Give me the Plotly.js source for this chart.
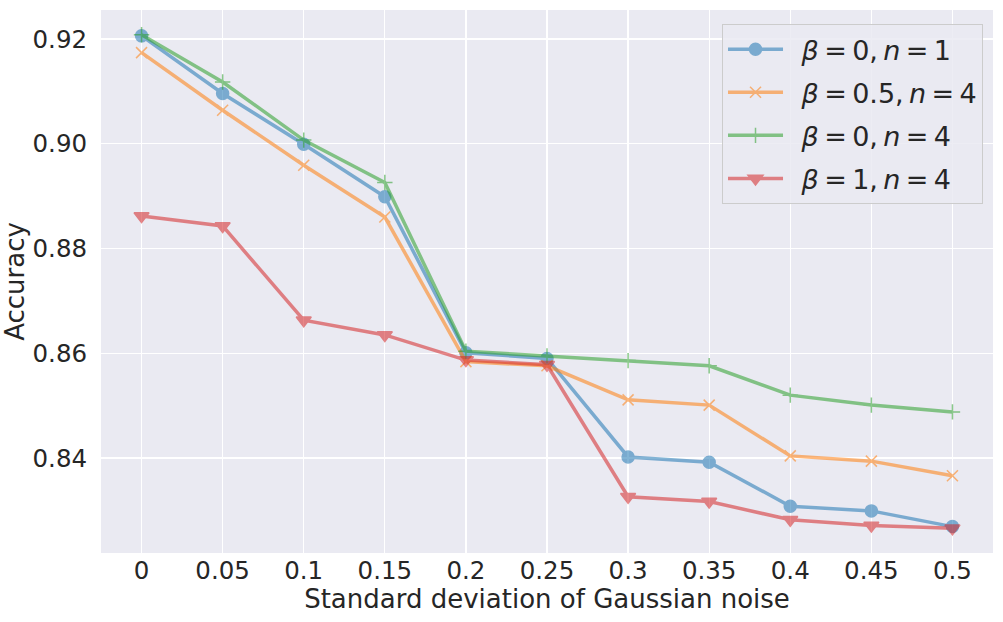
<!DOCTYPE html>
<html>
<head>
<meta charset="utf-8">
<script src="https://cdn.plot.ly/plotly-3.0.1.min.js"></script>
<style>
  body { margin: 0; background: #fff; }
  #chart { width: 1003px; height: 622px; }
</style>
</head>
<body>
<div id="chart"></div>
<script>
// noise levels on the x axis
const noiseLevels = ['0', '0.05', '0.1', '0.15', '0.2', '0.25', '0.3', '0.35', '0.4', '0.45', '0.5'];

// accuracy per setting
const accB0N1 = [0.9206, 0.9096, 0.8999, 0.8899, 0.8601, 0.8590, 0.8402, 0.8392, 0.8308, 0.8299, 0.8269];
const accB05N4 = [0.9174, 0.9064, 0.8959, 0.8860, 0.8584, 0.8576, 0.8511, 0.8501, 0.8404, 0.8394, 0.8366];
const accB0N4 = [0.9208, 0.9118, 0.9007, 0.8926, 0.8604, 0.8595, 0.8586, 0.8576, 0.8520, 0.8501, 0.8488];
const accB1N4 = [0.8862, 0.8843, 0.8663, 0.8635, 0.8587, 0.8578, 0.8326, 0.8317, 0.8282, 0.8271, 0.8266];

const yTicks = [0.84, 0.86, 0.88, 0.90, 0.92];
const yTickText = ['0.84', '0.86', '0.88', '0.90', '0.92'];

const FONT = 'DejaVu Sans, sans-serif';

// mathtext-like label: thin spaces round "=" and after the comma
const label = (b, n) => '\u2002<i>β</i>\u2009=\u2009' + b + ',\u2009<i>n</i>\u2009=\u2009' + n;

const mkTrace = (y, name, color, symbol, size) => ({
    x: noiseLevels,
    y: y,
    name: name,
    legendgroup: name,
    type: 'scatter',
    mode: 'lines+markers',
    opacity: 0.55,
    line: { color: color, width: 3.5 },
    marker: { symbol: symbol, size: size, color: color,
              line: { color: color, width: 1.5 } },
});

const data = [
    mkTrace(accB0N1, label('0', '1'), '#1f77b4', 'circle', 12),
    mkTrace(accB05N4, label('0.5', '4'), '#ff7f0e', 'x-thin', 11),
    mkTrace(accB0N4, label('0', '4'), '#2ca02c', 'cross-thin', 11),
    mkTrace(accB1N4, label('1', '4'), '#d62728', 'triangle-down', 13),
];

const layout = {
    width: 1003,
    height: 622,
    margin: { l: 101, r: 10, t: 10, b: 69 },
    paper_bgcolor: '#ffffff',
    plot_bgcolor: '#eaeaf2',
    font: { family: FONT, color: '#262626', size: 24 },
    xaxis: {
        type: 'category',
        range: [-0.5, 10.5],
        showgrid: true,
        gridcolor: '#ffffff',
        gridwidth: 1.2,
        zeroline: false,
        showline: false,
        ticks: '',
        tickfont: { size: 24.5 },
        title: { text: 'Standard deviation of Gaussian noise', font: { size: 26 }, standoff: 0 },
    },
    yaxis: {
        range: [0.82186, 0.92554],
        tickvals: yTicks,
        ticktext: yTickText,
        showgrid: true,
        gridcolor: '#ffffff',
        gridwidth: 1.2,
        zeroline: false,
        showline: false,
        ticks: 'outside',
        ticklen: 8,
        tickcolor: 'rgba(0,0,0,0)',
        tickfont: { size: 24.5 },
        title: { text: 'Accuracy', font: { size: 26 }, standoff: 8 },
    },
    showlegend: true,
    legend: {
        x: 0.9888,
        y: 0.974,
        xanchor: 'right',
        yanchor: 'top',
        bgcolor: 'rgba(234,234,242,0.85)',
        bordercolor: '#cccccc',
        borderwidth: 1,
        font: { family: FONT, size: 27, color: '#262626' },
        itemwidth: 55,
        tracegroupgap: 5,
    },
};

Plotly.newPlot('chart', data, layout, { displayModeBar: false, staticPlot: true });
</script>
</body>
</html>
